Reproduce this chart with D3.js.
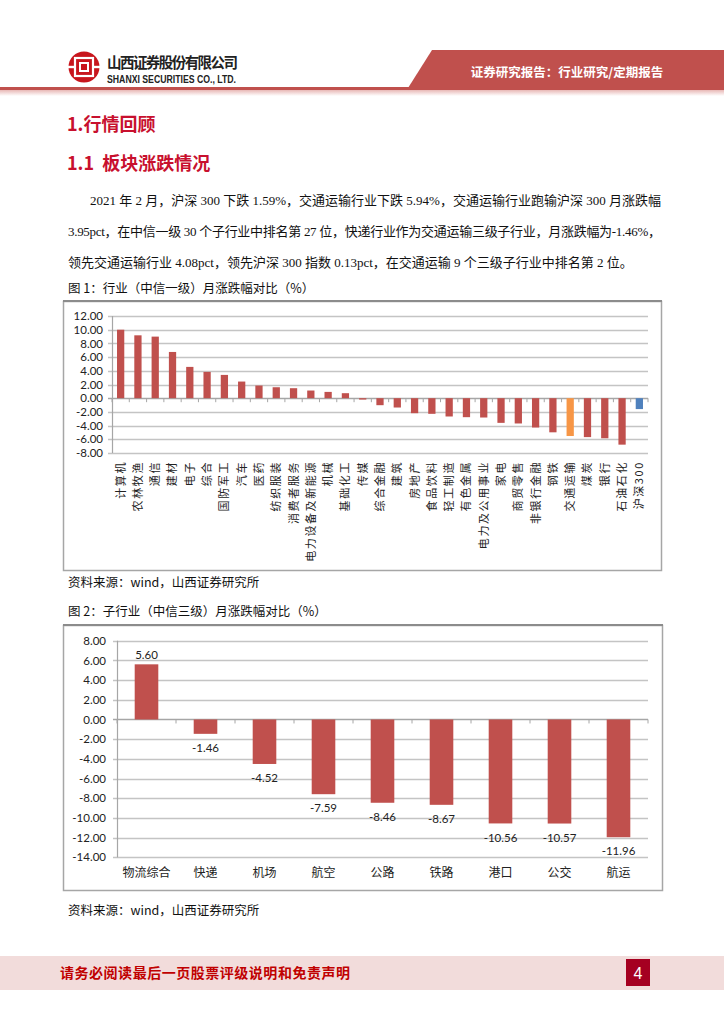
<!DOCTYPE html>
<html><head><meta charset="utf-8">
<script src="https://cdn.jsdelivr.net/npm/d3@7/dist/d3.min.js"></script>
<style>
html,body{margin:0;padding:0;background:#fff;}
svg{display:block;}
</style></head>
<body>
<svg id="page" width="724" height="1024"></svg>
<script>
// ---------- DATA ----------
const industryCats = ["计算机","农林牧渔","通信","建材","电子","综合","国防军工","汽车","医药","纺织服装","消费者服务","电力设备及新能源","机械","基础化工","传媒","综合金融","建筑","房地产","食品饮料","轻工制造","有色金属","电力及公用事业","家电","商贸零售","非银行金融","钢铁","交通运输","煤炭","银行","石油石化","沪深300"];
const industryVals = [10.0,9.18,8.99,6.75,4.57,3.84,3.40,2.43,1.85,1.60,1.46,1.12,0.92,0.73,-0.20,-1.02,-1.36,-2.19,-2.28,-2.67,-2.77,-2.82,-3.60,-3.69,-4.28,-4.98,-5.52,-5.68,-5.85,-6.78,-1.59];
const industryTicks = [12,10,8,6,4,2,0,-2,-4,-6,-8];
const subCats = ["物流综合","快递","机场","航空","公路","铁路","港口","公交","航运"];
const subVals = [5.60,-1.46,-4.52,-7.59,-8.46,-8.67,-10.56,-10.57,-11.96];
const subTicks = [8,6,4,2,0,-2,-4,-6,-8,-10,-12,-14];
const bodyLines = [
  "2021 年 2 月，沪深 300 下跌 1.59%，交通运输行业下跌 5.94%，交通运输行业跑输沪深 300 月涨跌幅",
  "3.95pct，在中信一级 30 个子行业中排名第 27 位，快递行业作为交通运输三级子行业，月涨跌幅为-1.46%，",
  "领先交通运输行业 4.08pct，领先沪深 300 指数 0.13pct，在交通运输 9 个三级子行业中排名第 2 位。"
];

const RED = "#c0504d", ORANGE = "#f79646", BLUE = "#4f81bd";
const CJK = "'Noto Sans CJK SC','Noto Sans',sans-serif";
const SERIF = "'Liberation Serif','Noto Sans CJK SC',serif";
const NUM = "Lato,'Noto Sans CJK SC',sans-serif";
const fmt = v => v.toFixed(2);

const svg = d3.select("#page");

// ---------- HEADER ----------
const defs = svg.append("defs");
const g1 = defs.append("linearGradient").attr("id","shadow").attr("x1",0).attr("y1",0).attr("x2",0).attr("y2",1);
g1.append("stop").attr("offset","0%").attr("stop-color","#e8b8b6");
g1.append("stop").attr("offset","100%").attr("stop-color","#ffffff");

svg.append("polygon").attr("points","432,50 724,50 724,88 408,88").attr("fill",RED);
svg.append("rect").attr("x",0).attr("y",87).attr("width",724).attr("height",3).attr("fill",RED);
svg.append("rect").attr("x",0).attr("y",90).attr("width",724).attr("height",6).attr("fill","url(#shadow)");
svg.append("text").attr("x",567).attr("y",77).attr("text-anchor","middle")
  .attr("font-family",CJK).attr("font-weight","bold").attr("font-size",12.5).attr("fill","#fff")
  .text("证券研究报告：行业研究/定期报告");

// logo
const logo = svg.append("g").attr("transform","translate(84,67)");
logo.append("circle").attr("r",15.5).attr("fill","#c8161d");
logo.append("rect").attr("x",-9).attr("y",-9).attr("width",18).attr("height",18).attr("fill","none").attr("stroke","#fff").attr("stroke-width",2.2);
logo.append("rect").attr("x",-4).attr("y",-4).attr("width",8).attr("height",8).attr("fill","none").attr("stroke","#fff").attr("stroke-width",2);
logo.append("rect").attr("x",-16).attr("y",-1.2).attr("width",6).attr("height",2.4).attr("fill","#fff");
logo.append("rect").attr("x",10).attr("y",-1.2).attr("width",6).attr("height",2.4).attr("fill","#fff");
svg.append("text").attr("x",107).attr("y",68).attr("font-family",CJK).attr("font-weight","bold")
  .attr("font-size",14.5).attr("fill","#222").attr("textLength",131).attr("lengthAdjust","spacing").text("山西证券股份有限公司");
svg.append("text").attr("x",107).attr("y",83).attr("font-family","'Liberation Sans',sans-serif").attr("font-weight","bold")
  .attr("font-size",10).attr("fill","#222").attr("textLength",129).attr("lengthAdjust","spacingAndGlyphs").text("SHANXI SECURITIES CO., LTD.");

// ---------- TITLES & BODY ----------
svg.append("text").attr("x",67).attr("y",131).attr("font-family",CJK).attr("font-weight","bold")
  .attr("font-size",18).attr("fill","#c8102e").text("1.行情回顾");
svg.append("text").attr("x",67).attr("y",170).attr("font-family",CJK).attr("font-weight","bold")
  .attr("font-size",18).attr("fill","#c8102e").attr("xml:space","preserve").text("1.1  板块涨跌情况");

const bodyPos = [{x:90,y:205,w:571},{x:68,y:236,w:593},{x:68,y:267,w:null}];
bodyLines.forEach((t,i)=>{
  const el = svg.append("text").attr("x",bodyPos[i].x).attr("y",bodyPos[i].y)
    .attr("font-family",SERIF).attr("font-size",13).attr("fill","#111").text(t);
  if(bodyPos[i].w) el.attr("textLength",bodyPos[i].w).attr("lengthAdjust","spacing");
});

function caption(t,y){
  svg.append("text").attr("x",68).attr("y",y).attr("font-family",CJK).attr("font-size",12.5).attr("fill","#111").text(t);
}
caption("图 1：行业（中信一级）月涨跌幅对比（%）",293);
caption("资料来源：wind，山西证券研究所",587);
caption("图 2：子行业（中信三级）月涨跌幅对比（%）",616);
caption("资料来源：wind，山西证券研究所",915);

// ---------- CHART 1 ----------
svg.append("rect").attr("x",63.5).attr("y",301.5).attr("width",598).attr("height",269)
  .attr("fill","none").attr("stroke","#a6a6a6").attr("stroke-width",1.5);
svg.append("line").attr("x1",63).attr("x2",662).attr("y1",301).attr("y2",301).attr("stroke","#8c8c8c").attr("stroke-width",2);

const c1 = svg.append("g");
const x1 = d3.scaleBand().domain(industryCats).range([112,648]).paddingInner(0.58).paddingOuter(0.29);
const y1 = d3.scaleLinear().domain([-8,12]).range([453,316]);

c1.selectAll("line.grid").data(industryTicks).join("line").attr("class","grid")
  .attr("x1",108).attr("x2",648).attr("y1",d=>Math.round(y1(d))+0.5).attr("y2",d=>Math.round(y1(d))+0.5)
  .attr("stroke",d=>d===0?"#a6a6a6":"#c4c4c4").attr("stroke-width",1.5);
c1.append("line").attr("x1",112.5).attr("x2",112.5).attr("y1",y1(12)).attr("y2",y1(-8)).attr("stroke","#a6a6a6").attr("stroke-width",1.2);
c1.selectAll("text.ytick").data(industryTicks).join("text").attr("class","ytick")
  .attr("x",103).attr("y",d=>y1(d)).attr("dy","0.36em").attr("text-anchor","end")
  .attr("font-family",NUM).attr("font-size",11.5).attr("fill","#222").text(fmt);
const step1 = x1.step();
c1.selectAll("line.xt").data(d3.range(industryCats.length+1)).join("line").attr("class","xt")
  .attr("x1",i=>112+i*step1).attr("x2",i=>112+i*step1).attr("y1",y1(0)).attr("y2",y1(0)+4)
  .attr("stroke","#a6a6a6");
c1.selectAll("rect.bar").data(industryCats).join("rect").attr("class","bar")
  .attr("x",d=>x1(d)).attr("width",x1.bandwidth())
  .attr("y",(d,i)=>y1(Math.max(0,industryVals[i])))
  .attr("height",(d,i)=>Math.abs(y1(industryVals[i])-y1(0)))
  .attr("fill",d=>d==="交通运输"?ORANGE:(d==="沪深300"?BLUE:RED));
c1.selectAll("text.xl").data(industryCats).join("text").attr("class","xl")
  .attr("transform",d=>`translate(${x1(d)+x1.bandwidth()/2},461) rotate(-90)`)
  .attr("text-anchor","end").attr("dy","0.36em")
  .attr("font-family",CJK).attr("font-size",11).attr("letter-spacing",1.6).attr("fill","#222").text(d=>d);

// ---------- CHART 2 ----------
svg.append("rect").attr("x",63.5).attr("y",625.5).attr("width",599).attr("height",265)
  .attr("fill","none").attr("stroke","#a6a6a6").attr("stroke-width",1.5);
svg.append("line").attr("x1",63).attr("x2",663).attr("y1",625).attr("y2",625).attr("stroke","#8c8c8c").attr("stroke-width",2);

const c2 = svg.append("g");
const x2 = d3.scaleBand().domain(subCats).range([117,648]).paddingInner(0.6).paddingOuter(0.3);
const y2 = d3.scaleLinear().domain([-14,8]).range([857.3,640.7]);
c2.selectAll("line.grid").data(subTicks).join("line").attr("class","grid")
  .attr("x1",113).attr("x2",648).attr("y1",d=>Math.round(y2(d))+0.5).attr("y2",d=>Math.round(y2(d))+0.5)
  .attr("stroke",d=>d===0?"#a6a6a6":"#c4c4c4").attr("stroke-width",1.5);
c2.append("line").attr("x1",117.5).attr("x2",117.5).attr("y1",y2(8)).attr("y2",y2(-14)).attr("stroke","#a6a6a6").attr("stroke-width",1.2);
c2.selectAll("text.ytick").data(subTicks).join("text").attr("class","ytick")
  .attr("x",106).attr("y",d=>y2(d)).attr("dy","0.36em").attr("text-anchor","end")
  .attr("font-family",NUM).attr("font-size",11.5).attr("fill","#222").text(fmt);
const step2 = x2.step();
c2.selectAll("line.xt").data(d3.range(subCats.length+1)).join("line").attr("class","xt")
  .attr("x1",i=>117+i*step2).attr("x2",i=>117+i*step2).attr("y1",y2(0)).attr("y2",y2(0)+4)
  .attr("stroke","#a6a6a6");
c2.selectAll("rect.bar").data(subCats).join("rect").attr("class","bar")
  .attr("x",d=>x2(d)).attr("width",x2.bandwidth())
  .attr("y",(d,i)=>y2(Math.max(0,subVals[i])))
  .attr("height",(d,i)=>Math.abs(y2(subVals[i])-y2(0)))
  .attr("fill",RED);
c2.selectAll("text.vl").data(subCats).join("text").attr("class","vl")
  .attr("x",d=>x2(d)+x2.bandwidth()/2)
  .attr("y",(d,i)=>subVals[i]>=0 ? y2(subVals[i])-9 : y2(subVals[i])+14)
  .attr("dy","0.36em").attr("text-anchor","middle")
  .attr("font-family",NUM).attr("font-size",11.5).attr("fill","#222").text((d,i)=>fmt(subVals[i]));
c2.selectAll("text.xl").data(subCats).join("text").attr("class","xl")
  .attr("x",d=>x2(d)+x2.bandwidth()/2).attr("y",873).attr("dy","0.36em").attr("text-anchor","middle")
  .attr("font-family",CJK).attr("font-size",12).attr("fill","#222").text(d=>d);

// ---------- FOOTER ----------
svg.append("rect").attr("x",0).attr("y",956).attr("width",724).attr("height",34).attr("fill","#f2dcdb");
svg.append("text").attr("x",60).attr("y",978).attr("font-family",CJK).attr("font-weight","bold")
  .attr("font-size",14).attr("fill","#c00000").attr("textLength",290).attr("lengthAdjust","spacing")
  .text("请务必阅读最后一页股票评级说明和免责声明");
svg.append("rect").attr("x",626).attr("y",959).attr("width",24).attr("height",27).attr("fill","#a50021");
svg.append("text").attr("x",638).attr("y",973).attr("dy","0.36em").attr("text-anchor","middle")
  .attr("font-family","'Liberation Sans',sans-serif").attr("font-size",16).attr("fill","#fff").text("4");
</script>
</body></html>
